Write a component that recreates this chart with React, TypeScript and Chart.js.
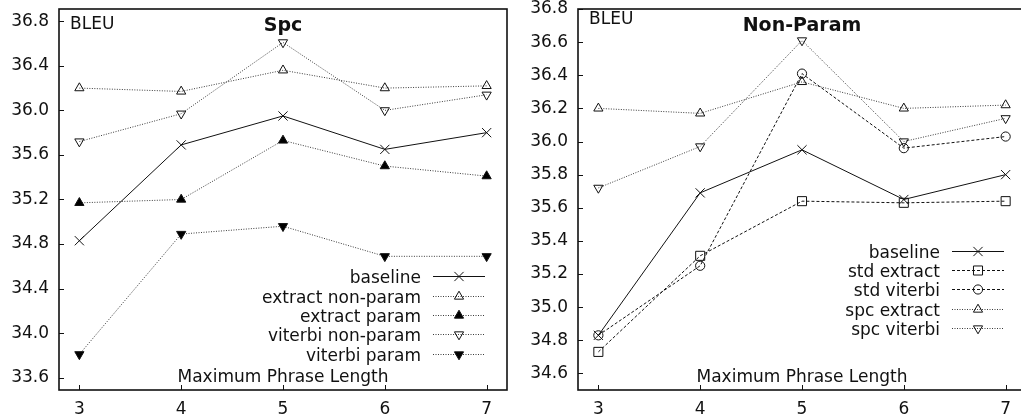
import React, { useEffect, useRef } from 'react';
import { Chart, registerables } from 'chart.js';
import { drawPoint } from 'chart.js/helpers';

Chart.register(...registerables);

// ---- data ----
const phraseLengths = [3, 4, 5, 6, 7];
const baseline = [34.83, 35.69, 35.95, 35.65, 35.8];
const extractNonParam = [36.2, 36.17, 36.36, 36.2, 36.22];
const extractParam = [35.17, 35.2, 35.73, 35.5, 35.41];
const viterbiNonParam = [35.72, 35.97, 36.61, 36.0, 36.14];
const viterbiParam = [33.81, 34.89, 34.96, 34.69, 34.69];
const stdExtract = [34.73, 35.31, 35.64, 35.63, 35.64];
const stdViterbi = [34.83, 35.25, 36.41, 35.96, 36.03];
const spcYTicks = [33.6, 34.0, 34.4, 34.8, 35.2, 35.6, 36.0, 36.4, 36.8];
const nonParamYTicks = [34.6, 34.8, 35.0, 35.2, 35.4, 35.6, 35.8, 36.0, 36.2, 36.4, 36.6, 36.8];

// ---- styles ----
const FONT = '"DejaVu Sans", sans-serif';
const SOLID = { color: '#111', dash: [] as number[] };
const DASHED = { color: '#111', dash: [3, 2] };
const DOTTED = { color: '#3a3a3a', dash: [1, 1.5] };
const CROSS = { style: 'crossRot', radius: 6.5, rotation: 0, fill: 'rgba(0,0,0,0)' };
const TRI_UP = { style: 'triangle', radius: 5.3, rotation: 0, fill: 'rgba(0,0,0,0)' };
const TRI_UP_F = { style: 'triangle', radius: 5.3, rotation: 0, fill: '#000' };
const TRI_DN = { style: 'triangle', radius: 5.3, rotation: 180, fill: 'rgba(0,0,0,0)' };
const TRI_DN_F = { style: 'triangle', radius: 5.3, rotation: 180, fill: '#000' };
const SQUARE = { style: 'rect', radius: 6.4, rotation: 0, fill: 'rgba(0,0,0,0)' };
const CIRCLE = { style: 'circle', radius: 4.6, rotation: 0, fill: 'rgba(0,0,0,0)' };

function ds(label: string, values: number[], line: any, marker: any) {
  return {
    label,
    data: phraseLengths.map((x, i) => ({ x, y: values[i] })),
    borderColor: line.color,
    borderDash: line.dash,
    borderWidth: 1,
    pointStyle: marker.style,
    pointRotation: marker.rotation,
    pointRadius: marker.radius,
    pointBackgroundColor: marker.fill,
    pointBorderColor: '#111',
    pointBorderWidth: 1,
    tension: 0,
    fill: false,
  };
}

function makeDecor(title: string, bleuBase: number, legendFromBottom: number) {
  return {
    id: 'decor',
    afterDatasetsDraw(chart: any) {
      const { ctx, chartArea: a } = chart;
      const xs = chart.scales.x;
      const ys = chart.scales.y;
      ctx.save();
      ctx.setLineDash([]);
      ctx.strokeStyle = '#111';
      ctx.lineWidth = 1;
      xs.ticks.forEach((t: any) => {
        const px = Math.round(xs.getPixelForValue(t.value)) + 0.5;
        ctx.beginPath();
        ctx.moveTo(px, a.bottom);
        ctx.lineTo(px, a.bottom - 5);
        ctx.stroke();
      });
      ys.ticks.forEach((t: any) => {
        const py = Math.round(ys.getPixelForValue(t.value)) + 0.5;
        ctx.beginPath();
        ctx.moveTo(a.left, py);
        ctx.lineTo(a.left + 5, py);
        ctx.stroke();
      });
      ctx.lineWidth = 1.6;
      ctx.strokeRect(a.left, a.top, a.right - a.left, a.bottom - a.top);

      ctx.fillStyle = '#111';
      ctx.textBaseline = 'alphabetic';
      ctx.font = '17px ' + FONT;
      ctx.textAlign = 'left';
      ctx.fillText('BLEU', a.left + 11, a.top + bleuBase);
      ctx.textAlign = 'center';
      ctx.fillText('Maximum Phrase Length', (a.left + a.right) / 2, a.bottom - 8.5);
      ctx.font = 'bold 19px ' + FONT;
      ctx.fillText(title, (a.left + a.right) / 2, a.top + 22);

      chart.data.datasets.forEach((d: any, i: number) => {
        const y = Math.round(a.bottom - legendFromBottom + i * 19.3) + 0.5;
        ctx.font = '17px ' + FONT;
        ctx.textAlign = 'right';
        ctx.fillStyle = '#111';
        ctx.fillText(d.label, a.right - 86, y + 6);
        ctx.strokeStyle = d.borderColor;
        ctx.setLineDash(d.borderDash);
        ctx.lineWidth = 1;
        ctx.beginPath();
        ctx.moveTo(a.right - 74, y);
        ctx.lineTo(a.right - 22, y);
        ctx.stroke();
        ctx.setLineDash([]);
        ctx.strokeStyle = d.pointBorderColor;
        ctx.fillStyle = d.pointBackgroundColor;
        drawPoint(ctx, { pointStyle: d.pointStyle, rotation: d.pointRotation, radius: d.pointRadius, borderWidth: 1 } as any, a.right - 48, y);
      });
      ctx.restore();
    },
  };
}

function makeConfig(datasets: any[], yMin: number, yMax: number, yTicks: number[], yAxisWidth: number, padRight: number, decor: any) {
  return {
    type: 'line' as const,
    data: { datasets },
    options: {
      animation: false as const,
      responsive: false,
      devicePixelRatio: 1,
      layout: { padding: { top: 9, right: padRight, left: 0, bottom: 0 } },
      plugins: { legend: { display: false }, tooltip: { enabled: false }, title: { display: false } },
      scales: {
        x: {
          type: 'linear' as const,
          min: 2.8,
          max: 7.2,
          grid: { display: false, drawTicks: false },
          border: { display: false },
          afterBuildTicks: (s: any) => { s.ticks = phraseLengths.map((v) => ({ value: v })); },
          afterFit: (s: any) => { s.height = 29; s.paddingLeft = 0; s.paddingRight = 0; },
          ticks: { autoSkip: false, padding: 9, color: '#111', font: { family: FONT, size: 17 }, callback: (v: any) => String(v) },
        },
        y: {
          type: 'linear' as const,
          min: yMin,
          max: yMax,
          grid: { display: false, drawTicks: false },
          border: { display: false },
          afterBuildTicks: (s: any) => { s.ticks = yTicks.map((v) => ({ value: v })); },
          afterFit: (s: any) => { s.width = yAxisWidth; s.paddingTop = 0; s.paddingBottom = 0; },
          ticks: { autoSkip: false, padding: 10, color: '#111', font: { family: FONT, size: 17 }, callback: (v: any) => Number(v).toFixed(1) },
        },
      },
    },
    plugins: [decor],
  };
}

export default function App() {
  const leftRef = useRef<HTMLCanvasElement>(null);
  const rightRef = useRef<HTMLCanvasElement>(null);

  useEffect(() => {
    const left = new Chart(leftRef.current as HTMLCanvasElement, makeConfig(
      [
        ds('baseline', baseline, SOLID, CROSS),
        ds('extract non-param', extractNonParam, DOTTED, TRI_UP),
        ds('extract param', extractParam, DOTTED, TRI_UP_F),
        ds('viterbi non-param', viterbiNonParam, DOTTED, TRI_DN),
        ds('viterbi param', viterbiParam, DOTTED, TRI_DN_F),
      ],
      33.49, 36.91, spcYTicks, 59, 8, makeDecor('Spc', 20, 113.7)
    ) as any);
    const right = new Chart(rightRef.current as HTMLCanvasElement, makeConfig(
      [
        ds('baseline', baseline, SOLID, CROSS),
        ds('std extract', stdExtract, DASHED, SQUARE),
        ds('std viterbi', stdViterbi, DASHED, CIRCLE),
        ds('spc extract', extractNonParam, DOTTED, TRI_UP),
        ds('spc viterbi', viterbiNonParam, DOTTED, TRI_DN),
      ],
      34.5, 36.8, nonParamYTicks, 63, 9, makeDecor('Non-Param', 15, 139.3)
    ) as any);
    return () => {
      left.destroy();
      right.destroy();
    };
  }, []);

  return (
    <div style={{ position: 'absolute', left: 0, top: 0, width: 1021, height: 419, overflow: 'hidden', background: '#fff' }}>
      <canvas ref={leftRef} width={515} height={419} style={{ position: 'absolute', left: 0, top: 0, width: 515, height: 419 }} />
      <canvas ref={rightRef} width={520} height={419} style={{ position: 'absolute', left: 515, top: 0, width: 520, height: 419 }} />
    </div>
  );
}
